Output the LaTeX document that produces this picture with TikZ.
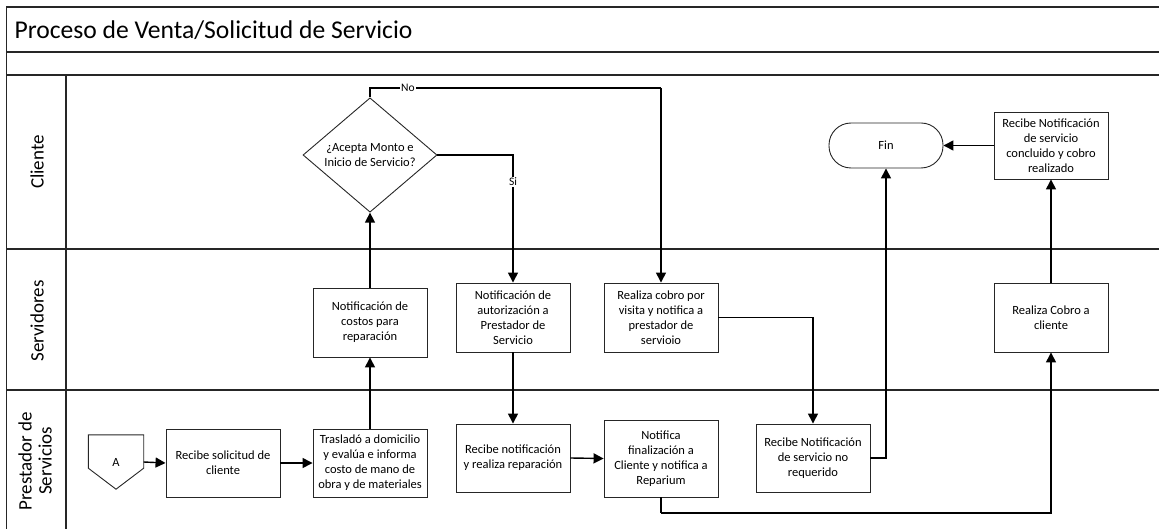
\documentclass[tikz,border=0pt]{standalone}
\usepackage{fontspec}
\setmainfont{Carlito}
\usepackage{tikz}
\usetikzlibrary{arrows.meta,positioning,shapes.geometric,calc}

\begin{document}
\begin{tikzpicture}[x=1pt, y=-1pt,
  lane/.style={line width=1.3pt, draw=black!85},
  pbox/.style={rectangle, draw=black!85, line width=0.9pt, fill=white,
               minimum width=114pt, minimum height=68pt, inner sep=1pt,
               font=\fontsize{12.5}{15}\selectfont, align=center},
  dbox/.style={diamond, draw=black!85, line width=0.9pt, fill=white,
               minimum width=134pt, minimum height=112pt, inner sep=0pt,
               font=\fontsize{12.5}{15}\selectfont, align=center},
  tbox/.style={rectangle, rounded corners=22pt, draw=black!85, line width=0.9pt,
               minimum width=114pt, minimum height=45pt,
               font=\fontsize{12.5}{15}\selectfont},
  lanelabel/.style={rotate=90, font=\fontsize{19}{20}\selectfont, align=center},
  lbl/.style={fill=white, inner sep=1pt, font=\fontsize{11.5}{13}\selectfont},
  arr/.style={-{Triangle[length=10pt, width=10pt]}, line width=1.4pt},
  link/.style={line width=1.4pt}
]
\useasboundingbox (0,0) rectangle (1159,529);

% Lanes
\draw[lane] (6.5,529) -- (6.5,7) -- (1159,7);
\draw[lane] (6.5,52) -- (1159,52);
\draw[lane] (6.5,75) -- (1159,75);
\draw[lane] (6.5,249) -- (1159,249);
\draw[lane] (6.5,390) -- (1159,390);
\draw[lane] (66,75) -- (66,529);

\node[anchor=west, font=\fontsize{25.6}{28}\selectfont] (title) at (11,30)
  {Proceso de Venta/Solicitud de Servicio};
\node[lanelabel] (lcliente) at (37,162) {Cliente};
\node[lanelabel] (lservidores) at (37,321) {Servidores};
\node[lanelabel] (lprestador) at (35,461) {Prestador de\\Servicios};

% Prestador de Servicios
\node[inner sep=0pt, minimum width=55pt, minimum height=54pt,
      font=\fontsize{12.5}{15}\selectfont] (conA) at (116,462) {A};
\draw[line width=0.9pt, draw=black!85]
  (conA.north west) -- (conA.north east) -- ([yshift=21pt]conA.south east)
  -- (conA.south) -- ([yshift=21pt]conA.south west) -- cycle;

\node[pbox] (recibe)      at (223,463) {Recibe solicitud de\\cliente};
\node[pbox] (traslado)    at (370,463) {Trasladó a domicilio\\y evalúa e informa\\costo de mano de\\obra y de materiales};
\node[pbox] (reparacion)  at (513,458) {Recibe notificación\\y realiza reparación};
\node[pbox, minimum height=77pt] (finaliza) at (661,458.5)
  {Notifica\\finalización a\\Cliente y notifica a\\Reparium};
\node[pbox] (norequerido) at (813,458) {Recibe Notificación\\de servicio no\\requerido};

% Servidores
\node[pbox, minimum height=69pt] (costos)      at (370,322.5) {Notificación de\\costos para\\reparación};
\node[pbox, minimum height=69pt] (autoriza)    at (513,317.5) {Notificación de\\autorización a\\Prestador de\\Servicio};
\node[pbox, minimum height=69pt] (cobrovisita) at (661,317.5) {Realiza cobro por\\visita y notifica a\\prestador de\\servioio};
\node[pbox, minimum height=69pt] (cobro)       at (1051,317.5) {Realiza Cobro a\\cliente};

% Cliente
\node[dbox] (decision)  at (370,155) {¿Acepta Monto e\\Inicio de Servicio?};
\node[tbox] (fin)       at (886,145.5) {Fin};
\node[pbox, minimum height=67pt] (concluido) at (1051,145.5)
  {Recibe Notificación\\de servicio\\concluido y cobro\\realizado};

\coordinate (notop)   at (661,88);
\coordinate (retorno) at (661,513);

% Arrows
\draw[arr] (conA.east) -- (recibe.west);
\draw[arr] (recibe.east) -- (traslado.west);
\draw[arr] (traslado.north) -- (costos.south);
\draw[arr] (costos.north) -- (decision.south);
\draw[arr] (decision.east) -| node[lbl, pos=0.605] {Si} (autoriza.north);
\draw[link] (decision.north) |- node[lbl, pos=0.565] {No} (notop);
\draw[arr] (notop) -- (cobrovisita.north);
\draw[arr] (autoriza.south) -- (reparacion.north);
\draw[arr] (reparacion.east) -- (finaliza.west);
\draw[arr] (cobrovisita.east) -| (norequerido.north);
\draw[arr] (norequerido.east) -| (fin.south);
\draw[link] (finaliza.south) -- (retorno);
\draw[arr] (retorno) -| (cobro.south);
\draw[arr] (cobro.north) -- (concluido.south);
\draw[arr] (concluido.west) -- (fin.east);
\end{tikzpicture}
\end{document}
